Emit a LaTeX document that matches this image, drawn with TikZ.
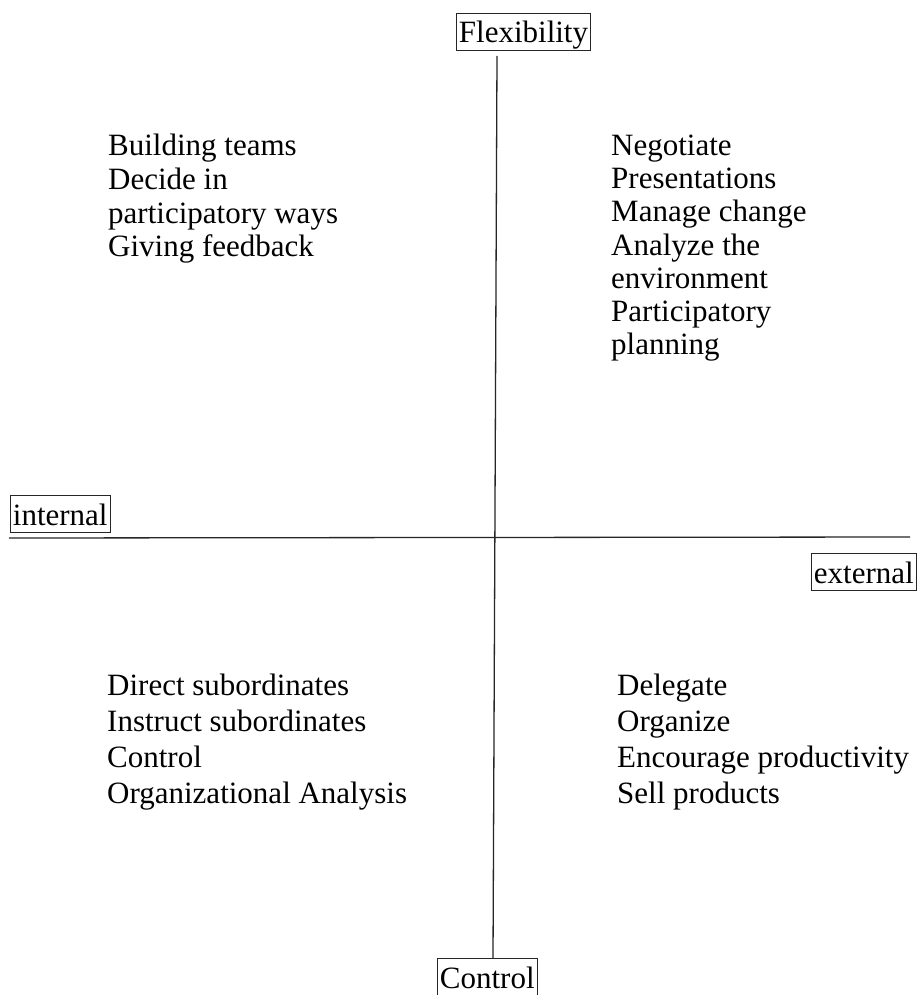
\documentclass[tikz,border=0pt]{standalone}
\usepackage{fontspec}
\setmainfont{Liberation Serif}
\begin{document}
\begin{tikzpicture}[x=1pt,y=-1pt,
  txt/.style={anchor=base west,inner sep=0pt,font=\fontsize{31}{36}\selectfont},
  labelbox/.style={draw=black!85,line width=0.8pt,anchor=base west,inner ysep=0pt,inner xsep=2.5pt,
    text height=30pt,text depth=7.5pt,font=\fontsize{31}{36}\selectfont},
  axis/.style={line width=1.3pt,black!85}]
\useasboundingbox (0,0) rectangle (920,995);
\fill[white] (0,0) rectangle (920,995);

% axis labels
\node[labelbox] (flex) at (456,43) {Flexibility};
\node[labelbox] (int) at (10,525) {internal};
\node[labelbox] (ext) at (811,583) {external};
\node[labelbox] (ctrl) at (437,988) {Control};

% axes
\coordinate (vtop) at (497,56);
\coordinate (vbot) at (493,958);
\coordinate (hl) at (9,538);
\coordinate (hr) at (910,537);
\draw[axis] (vtop) -- (vbot);
\draw[axis] (hl) -- (hr);

% quadrant texts
\foreach \t [count=\i] in {Building teams,Decide in,participatory ways,Giving feedback}
  \node[txt] (tl\i) at (108,{156+33.5*(\i-1)}) {\t};
\foreach \t [count=\i] in {Negotiate,Presentations,Manage change,Analyze the,environment,Participatory,planning}
  \node[txt] (tr\i) at (611,{156+33*(\i-1)}) {\t};
\foreach \t [count=\i] in {Direct subordinates,Instruct subordinates,Control,Organizational Analysis}
  \node[txt] (bl\i) at (107,{695+36*(\i-1)}) {\t};
\foreach \t [count=\i] in {Delegate,Organize,Encourage productivity,Sell products}
  \node[txt] (br\i) at (617,{695+36*(\i-1)}) {\t};
\end{tikzpicture}
\end{document}
